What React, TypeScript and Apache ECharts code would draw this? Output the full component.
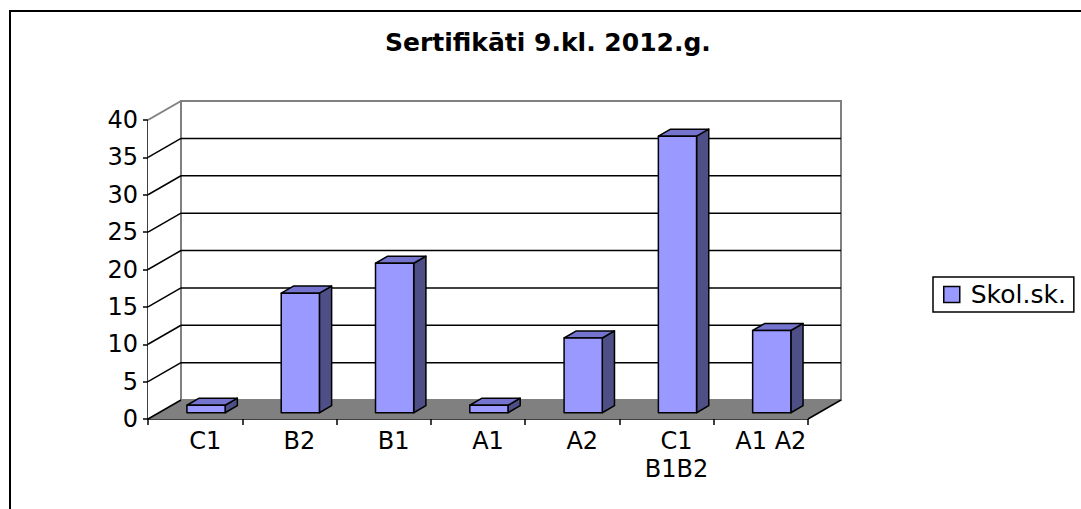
import React, { useEffect, useRef } from "react";
import * as echarts from "echarts";

const categories = ["C1", "B2", "B1", "A1", "A2", "C1\nB1B2", "A1 A2"];
const values = [1, 16, 20, 1, 10, 37, 11];
const yTicks = [0, 5, 10, 15, 20, 25, 30, 35, 40];
const seriesName = "Skol.sk.";
const titleText = "Sertifikāti 9.kl. 2012.g.";

const DX = 33;
const DY = 19;
const F1 = 0.33;
const F2 = 0.7;

export default function App() {
  const ref = useRef<HTMLDivElement>(null);
  useEffect(() => {
    if (!ref.current) return;
    const chart = echarts.init(ref.current, undefined, { renderer: "svg" });
    const yMax = yTicks[yTicks.length - 1];
    const option: any = {
      animation: false,
      backgroundColor: "#fff",
      title: {
        text: titleText,
        left: 385,
        top: 30,
        padding: 0,
        textStyle: { fontFamily: "DejaVu Sans", fontWeight: "bold", fontSize: 25, color: "#000" },
      },
      legend: {
        data: [{ name: seriesName, icon: "rect" }],
        left: 933,
        top: 277,
        orient: "vertical",
        padding: [5, 8, 5, 10],
        borderColor: "#000",
        borderWidth: 1.5,
        itemWidth: 16,
        itemHeight: 16,
        itemStyle: { color: "#9999FF", borderColor: "#000", borderWidth: 1.5 },
        textStyle: { fontFamily: "DejaVu Sans", fontSize: 25, color: "#000", padding: [0, 0, 0, 6] },
      },
      grid: { left: 148, top: 120, width: 660, height: 299 },
      xAxis: {
        type: "category",
        data: categories,
        axisLine: { lineStyle: { color: "#000", width: 1.5 } },
        axisTick: { show: true, length: 6, lineStyle: { color: "#000", width: 1.5 } },
        axisLabel: {
          fontFamily: "DejaVu Sans",
          fontSize: 24,
          color: "#000",
          lineHeight: 28,
          margin: 8,
          interval: 0,
          padding: [0, 0, 0, 20],
        },
        splitLine: { show: false },
      },
      yAxis: {
        type: "value",
        min: 0,
        max: yMax,
        interval: 5,
        axisLine: { show: true, lineStyle: { color: "#000", width: 1.5 } },
        axisTick: { show: true, length: 5, lineStyle: { color: "#000", width: 1.5 } },
        axisLabel: { fontFamily: "DejaVu Sans", fontSize: 24, color: "#000", margin: 10 },
        splitLine: { show: false },
      },
      graphic: [
        { type: "line", shape: { x1: 10, y1: 11, x2: 10, y2: 509 }, style: { stroke: "#000", lineWidth: 2 } },
        { type: "line", shape: { x1: 9, y1: 11, x2: 1081, y2: 11 }, style: { stroke: "#000", lineWidth: 2 } },
      ],
      series: [
        {
          type: "custom",
          name: "frame",
          z: 1,
          silent: true,
          data: yTicks.map((v) => [0, v]),
          encode: { x: 0, y: 1 },
          renderItem: (params: any, api: any) => {
            const cs = params.coordSys;
            const L = cs.x;
            const R = cs.x + cs.width;
            const v = api.value(1);
            const y = api.coord([0, v])[1];
            const children: any[] = [];
            if (v === 0) {
              const yTop = api.coord([0, yMax])[1];
              children.push({
                type: "polygon",
                shape: { points: [[L, yTop], [L + DX, yTop - DY], [L + DX, y - DY], [L, y]] },
                style: { fill: "#fff" },
              });
              children.push({
                type: "rect",
                shape: { x: L + DX, y: yTop - DY, width: R - L, height: y - yTop },
                style: { fill: "#fff", stroke: "#808080", lineWidth: 2 },
              });
              children.push({
                type: "line",
                shape: { x1: L, y1: yTop, x2: L + DX, y2: yTop - DY },
                style: { stroke: "#808080", lineWidth: 2 },
              });
              children.push({
                type: "polygon",
                shape: { points: [[L, y], [R, y], [R + DX, y - DY], [L + DX, y - DY]] },
                style: { fill: "#808080" },
              });
              children.push({
                type: "line",
                shape: { x1: L, y1: y, x2: L + DX, y2: y - DY },
                style: { stroke: "#000", lineWidth: 1.5 },
              });
              children.push({
                type: "line",
                shape: { x1: R, y1: y, x2: R + DX, y2: y - DY },
                style: { stroke: "#000", lineWidth: 1.5 },
              });
            } else if (v < yMax) {
              children.push({
                type: "line",
                shape: { x1: L, y1: y, x2: L + DX, y2: y - DY },
                style: { stroke: "#000", lineWidth: 1.5 },
              });
              children.push({
                type: "line",
                shape: { x1: L + DX, y1: y - DY, x2: R + DX, y2: y - DY },
                style: { stroke: "#000", lineWidth: 1.5 },
              });
            }
            return { type: "group", children };
          },
        },
        {
          type: "custom",
          name: seriesName,
          z: 2,
          itemStyle: { color: "#9999FF" },
          data: values.map((v, i) => [i, v]),
          encode: { x: 0, y: 1 },
          renderItem: (params: any, api: any) => {
            const i = api.value(0);
            const v = api.value(1);
            const b = api.coord([i, 0]);
            const t = api.coord([i, v]);
            const w = api.size([1, 0])[0] * 0.405;
            const x1 = b[0] - w / 2 + DX * F1;
            const x2 = x1 + w;
            const yb = b[1] - DY * F1;
            const yt = t[1] - DY * F1;
            const sx = DX * (F2 - F1);
            const sy = DY * (F2 - F1);
            const stroke = { stroke: "#000", lineWidth: 1.5, lineJoin: "round" };
            return {
              type: "group",
              children: [
                {
                  type: "polygon",
                  shape: { points: [[x2, yt], [x2 + sx, yt - sy], [x2 + sx, yb - sy], [x2, yb]] },
                  style: { fill: "#4F4F88", ...stroke },
                },
                {
                  type: "polygon",
                  shape: { points: [[x1, yt], [x2, yt], [x2 + sx, yt - sy], [x1 + sx, yt - sy]] },
                  style: { fill: "#7474CF", ...stroke },
                },
                {
                  type: "rect",
                  shape: { x: x1, y: yt, width: w, height: yb - yt },
                  style: { fill: "#9999FF", ...stroke },
                },
              ],
            };
          },
        },
      ],
    };
    chart.setOption(option);
    return () => chart.dispose();
  }, []);
  return <div ref={ref} style={{ position: "absolute", left: 0, top: 0, width: 1081, height: 509 }} />;
}
